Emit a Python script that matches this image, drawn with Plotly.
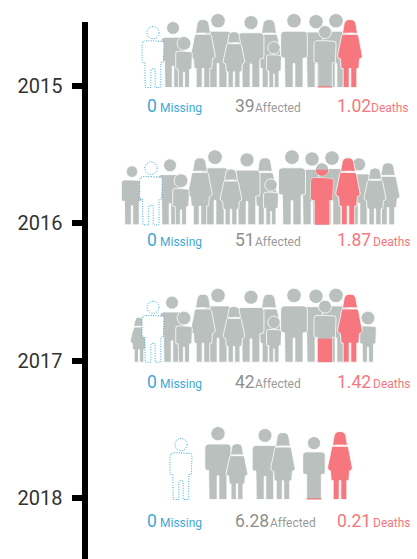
import math
import plotly.graph_objects as go

# ---- values ----
years = [2015, 2016, 2017, 2018]
missing = ["0", "0", "0", "0"]
affected = ["39", "51", "42", "6.28"]
deaths = ["1.02", "1.87", "1.42", "0.21"]
part_filled = [0.02, 0.89, 0.38, 0.02]

# ---- icon line-ups, back to front: kind, centre x, height (px) ----
crowd_2015 = [("man", 218, 74), ("man", 173, 66), ("woman", 269, 68), ("man", 316, 73), ("man", 336, 74),
              ("man", 294, 74), ("man", 251, 72), ("woman", 203, 68), ("girl", 234, 56), ("boy", 184, 51),
              ("boy", 274, 46), ("part", 325, 62), ("red", 350, 68), ("missing", 153, 61)]
crowd_2016 = [("man", 132, 59), ("man", 215, 75), ("man", 170, 66), ("woman", 265, 67), ("man", 312, 73),
              ("man", 332, 74), ("man", 292, 75), ("man", 247, 72), ("woman", 200, 67), ("girl", 231, 56),
              ("boy", 181, 51), ("boy", 271, 46), ("man", 359, 67), ("girl", 388, 62), ("girl", 375, 57),
              ("part", 322, 62), ("red", 348, 67), ("missing", 151, 63)]
crowd_2017 = [("girl", 139, 45), ("man", 218, 74), ("man", 172, 66), ("woman", 269, 68), ("man", 316, 73),
              ("man", 336, 74), ("man", 294, 74), ("man", 251, 72), ("woman", 203, 68), ("girl", 234, 56),
              ("boy", 184, 51), ("boy", 274, 46), ("boy", 368, 51), ("part", 325, 62), ("red", 350, 68),
              ("missing", 153, 61)]
crowd_2018 = [("man", 218, 73), ("girl", 237, 56), ("man", 265, 71), ("woman", 283, 67), ("part", 314, 63),
              ("red", 340, 68), ("missing", 181, 61)]
crowds = [crowd_2015, crowd_2016, crowd_2017, crowd_2018]

# ---- text placement ----
text_dy = [21.5, 18, 23, 24.5]
affected_label_x = [255, 255, 255, 270]
deaths_label_x = [371, 373, 373, 373]

GRAY, RED, BLUE = "#b9c0be", "#f6777d", "#3fa8d5"
PX_PER_YEAR = 137.33
Y0_PX = 86
PAGE_H = 559


def px_to_year(p):
    return years[0] + (p - Y0_PX) / PX_PER_YEAR


def mirror(right):
    return list(right) + [(-x, y) for x, y in reversed(right)]


def head(r, n=28):
    return [(r * math.cos(2 * math.pi * i / n), r + r * math.sin(2 * math.pi * i / n)) for i in range(n)]


def man_shape(hw, leg, gap, top, arm, gapy, r):
    right = [(0, top), (hw * .72, top), (hw * .93, top + .012), (hw, top + .05), (hw, arm - .035),
             (hw * .94, arm), (leg + .006, arm), (leg, arm + .01), (leg, 1)]
    if gap is not None:
        right += [(gap, 1), (gap, gapy), (0, gapy - .012)]
    else:
        right += [(0, 1)]
    return [head(r), mirror(right)]


def woman_shape(s=1.0):
    hair = [(0, 0), (.035 * s, .004), (.065 * s, .02), (.085 * s, .055), (.095 * s, .12),
            (.11 * s, .205), (.05 * s, .2), (0, .198)]
    body = [(0, .218), (.06 * s, .22), (.105 * s, .218), (.125 * s, .24), (.145 * s, .35), (.178 * s, .5),
            (.182 * s, .54), (.17 * s, .565), (.14 * s, .58), (.13 * s, .72), (.1 * s, .72), (.1 * s, 1),
            (.012 * s, 1), (.012 * s, .72), (0, .72)]
    return [mirror(hair), mirror(body)]


SHAPES = {
    "man": man_shape(.18, .122, .012, .24, .6, .68, .098),
    "boy": man_shape(.162, .108, .012, .29, .64, .71, .135),
    "part": man_shape(.178, .116, None, .245, .6, .9, .105),
    "missing": man_shape(.18, .128, .035, .235, .59, .7, .1),
    "woman": woman_shape(),
    "red": woman_shape(),
    "girl": woman_shape(1.06),
}


def clip_below(poly, ylim):
    """Keep the part of a closed polygon with y >= ylim (unit coordinates, y downwards)."""
    out = []
    for i, (x1, y1) in enumerate(poly):
        x2, y2 = poly[(i + 1) % len(poly)]
        in1, in2 = y1 >= ylim, y2 >= ylim
        if in1:
            out.append((x1, y1))
        if in1 != in2:
            t = (ylim - y1) / (y2 - y1)
            out.append((x1 + t * (x2 - x1), ylim))
    return out


def trace_of(parts, cx, h, base, fill, line, width=0.8, dash="solid"):
    xs, ys = [], []
    for poly in parts:
        if not poly:
            continue
        pts = list(poly) + [poly[0]]
        xs += [cx + x * h for x, _ in pts] + [None]
        ys += [px_to_year(base - h + y * h) for _, y in pts] + [None]
    return go.Scatter(x=xs, y=ys, yaxis="y2", mode="lines", fill="toself", fillcolor=fill,
                      line=dict(color=line, width=width, dash=dash), hoverinfo="skip",
                      showlegend=False, connectgaps=False)


fig = go.Figure()

# an invisible trace keeps the visible year axis alive
fig.add_trace(go.Scatter(x=[None], y=[years[0]], yaxis="y", showlegend=False, hoverinfo="skip"))

for i, yr in enumerate(years):
    tick_px = Y0_PX + i * PX_PER_YEAR
    base = tick_px + 1.5
    for kind, cx, h in crowds[i]:
        parts = SHAPES[kind]
        if kind == "missing":
            fig.add_trace(trace_of(parts, cx, h, base, "white", BLUE, 1.0, "1px,1.5px"))
        elif kind == "red":
            fig.add_trace(trace_of(parts, cx, h, base, RED, "white"))
        else:
            fig.add_trace(trace_of(parts, cx, h, base, GRAY, "white"))
            if kind == "part":
                clipped = [clip_below(p, 1 - part_filled[i]) for p in parts]
                fig.add_trace(trace_of(clipped, cx, h, base, RED, "rgba(0,0,0,0)", 0))

    ty = px_to_year(tick_px + text_dy[i])
    ly = px_to_year(tick_px + text_dy[i] + 1.5)
    entries = [(147, ty, missing[i], 17.5, BLUE), (160, ly, "Missing", 12, BLUE),
               (235, ty, affected[i], 17.5, "#8f8f8f"), (affected_label_x[i], ly, "Affected", 12, "#9a9a9a"),
               (337, ty, deaths[i], 17.5, RED), (deaths_label_x[i], ly, "Deaths", 12, RED)]
    for x, y, s, size, col in entries:
        fig.add_trace(go.Scatter(x=[x], y=[y], yaxis="y2", mode="text", text=[s], textposition="middle right",
                                 textfont=dict(family="Roboto", size=size, color=col),
                                 hoverinfo="skip", showlegend=False))

top_px, bottom_px = 22, PAGE_H
fig.update_layout(
    width=417, height=PAGE_H, margin=dict(l=0, r=0, t=0, b=0, pad=0, autoexpand=False),
    paper_bgcolor="white", plot_bgcolor="rgba(0,0,0,0)", showlegend=False,
    font=dict(family="Roboto"),
    xaxis=dict(range=[0, 417], visible=False, fixedrange=True),
    yaxis=dict(
        domain=[0, 1 - top_px / PAGE_H],
        range=[px_to_year(bottom_px), px_to_year(top_px)], tickmode="array", tickvals=years,
        ticktext=[str(y) for y in years], anchor="free", position=84.5 / 417, side="left",
        showline=True, linewidth=6, linecolor="black", ticks="outside", ticklen=10, tickwidth=6,
        tickcolor="black", showgrid=False, zeroline=False, fixedrange=True, ticklabelstandoff=5,
        tickfont=dict(family="Roboto", size=20, color="#333333"),
    ),
    yaxis2=dict(domain=[0, 1], range=[px_to_year(PAGE_H), px_to_year(0)], overlaying="free", anchor="x",
                visible=False, fixedrange=True),
)

fig.write_html("out.html", config={"displayModeBar": False},
               post_script="document.body.style.margin='0';document.body.style.overflow='hidden';")
